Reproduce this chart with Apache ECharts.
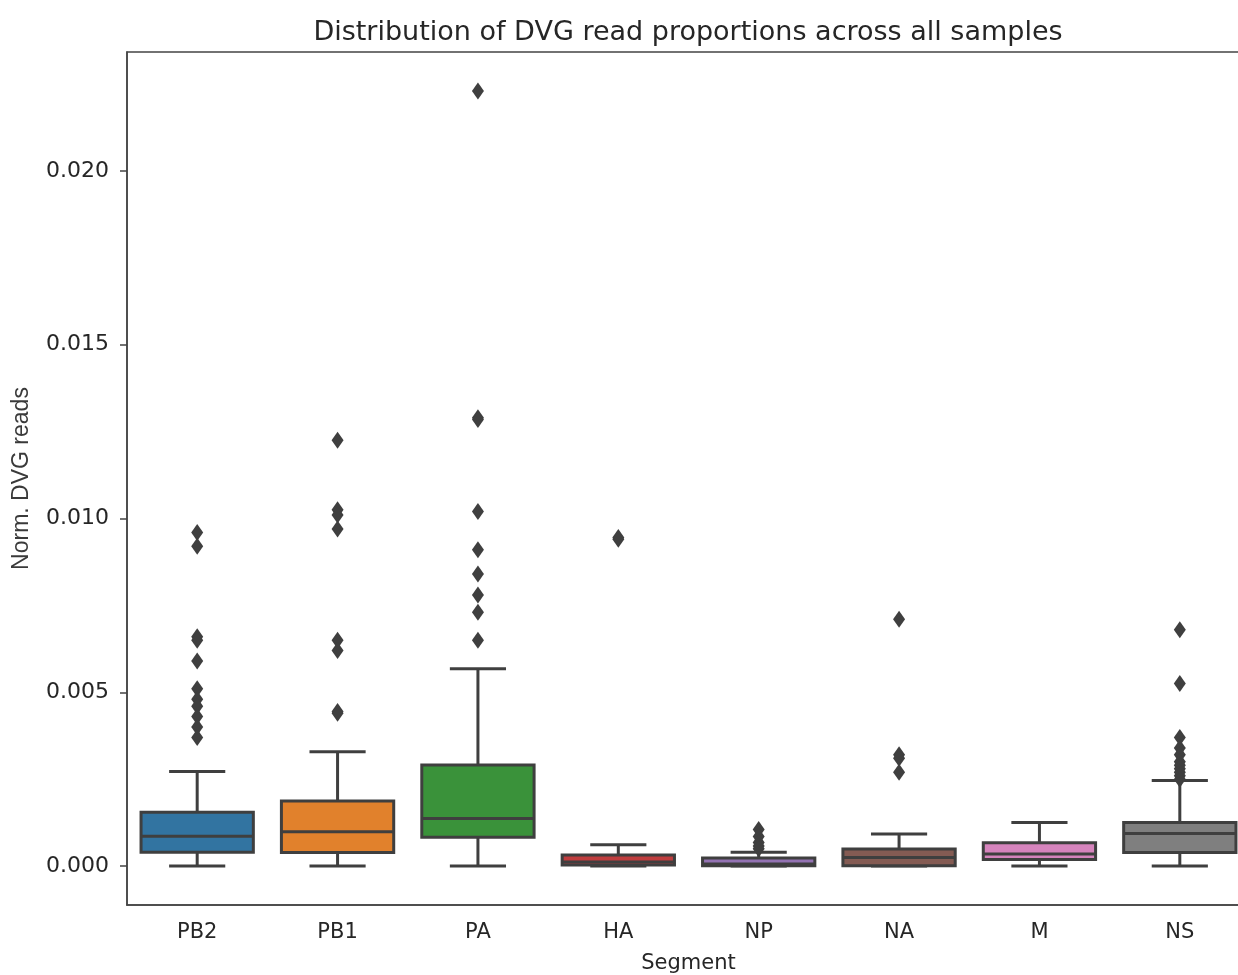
<!DOCTYPE html>
<html>
<head>
<meta charset="utf-8">
<script src="https://cdn.jsdelivr.net/npm/echarts@6/dist/echarts.min.js"></script>
<style>
html,body{margin:0;padding:0;background:#fff;}
#chart{width:1238px;height:975px;}
</style>
</head>
<body>
<div id="chart"></div>
<script>
// ---- data ----
const categories = ['PB2', 'PB1', 'PA', 'HA', 'NP', 'NA', 'M', 'NS'];
const boxMin    = [0.0000, 0.0000, 0.0000, 0.0000, 0.0000, 0.0000, 0.0000, 0.0000];
const boxQ1     = [0.00040, 0.00039, 0.00083, 0.00003, 0.00001, 0.00001, 0.00019, 0.00039];
const boxMedian = [0.00086, 0.00099, 0.00137, 0.00012, 0.00006, 0.00025, 0.00035, 0.00094];
const boxQ3     = [0.00155, 0.00187, 0.00291, 0.00032, 0.00023, 0.00049, 0.00067, 0.00125];
const boxMax    = [0.00272, 0.00329, 0.00568, 0.00061, 0.00040, 0.00092, 0.00125, 0.00246];
const outliersPB2 = [0.0096, 0.0092, 0.0066, 0.0065, 0.0059, 0.0051, 0.0048, 0.0046, 0.0043, 0.0040, 0.0037];
const outliersPB1 = [0.01225, 0.01025, 0.0101, 0.0097, 0.0065, 0.0062, 0.00445, 0.0044];
const outliersPA  = [0.0223, 0.0129, 0.01285, 0.0102, 0.0091, 0.0084, 0.0078, 0.0073, 0.0065];
const outliersHA  = [0.0094, 0.00945];
const outliersNP  = [0.00105, 0.00085, 0.00068, 0.00058, 0.0005];
const outliersNA  = [0.0071, 0.0032, 0.0031, 0.0027];
const outliersM   = [];
const outliersNS  = [0.0068, 0.00525, 0.0037, 0.0034, 0.0032, 0.0030, 0.0029, 0.0028, 0.0027, 0.0026, 0.0025];
const yTicks = [0, 0.005, 0.010, 0.015, 0.020];

// ---- styles ----
const palette = ['#3274a1', '#e1812c', '#3a923a', '#c03d3e', '#9372b2', '#845b53', '#d684bd', '#7f7f7f'];
const lineCol = '#3f3f3f';
const txtCol = '#262626';

const outlierGroups = [outliersPB2, outliersPB1, outliersPA, outliersHA, outliersNP, outliersNA, outliersM, outliersNS];
const boxData = categories.map((c, i) => [i, boxMin[i], boxQ1[i], boxMedian[i], boxQ3[i], boxMax[i]]);
const outlierData = [];
outlierGroups.forEach((g, i) => g.forEach(v => outlierData.push([i, v])));

const chart = echarts.init(document.getElementById('chart'), null, {renderer: 'canvas'});
chart.setOption({
  animation: false,
  backgroundColor: '#fff',
  title: {
    text: 'Distribution of DVG read proportions across all samples',
    left: 683, top: 14, textAlign: 'center',
    textStyle: {fontFamily: 'DejaVu Sans', fontSize: 27, fontWeight: 'normal', color: txtCol}
  },
  grid: {left: 127, width: 1123, top: 52, bottom: 70, outerBoundsMode: 'none', containLabel: false,
    show: true, borderColor: '#444', borderWidth: 1.5, backgroundColor: 'transparent'},
  xAxis: {
    type: 'category',
    data: categories,
    boundaryGap: true,
    name: 'Segment', nameLocation: 'middle', nameGap: 48,
    nameTextStyle: {fontFamily: 'DejaVu Sans', fontSize: 21, color: txtCol},
    axisLine: {onZero: false, lineStyle: {color: '#444', width: 1.5}},
    axisTick: {alignWithLabel: true, length: 7, lineStyle: {color: '#444', width: 1.5}},
    axisLabel: {fontFamily: 'DejaVu Sans', fontSize: 21, color: txtCol, margin: 17, interval: 0},
    splitLine: {show: false}
  },
  yAxis: {
    type: 'value',
    min: -0.00112, max: 0.02342,
    name: 'Norm. DVG reads', nameLocation: 'middle', nameGap: 94, nameRotate: 90,
    nameTextStyle: {fontFamily: 'Liberation Sans', fontSize: 23, color: '#3a3a3a'},
    axisLine: {show: true, onZero: false, lineStyle: {color: '#444', width: 1.5}},
    axisTick: {show: true, length: 7, customValues: yTicks, lineStyle: {color: '#444', width: 1.5}},
    axisLabel: {fontFamily: 'DejaVu Sans', fontSize: 22, color: txtCol, margin: 18, customValues: yTicks,
      formatter: v => v.toFixed(3)},
    splitLine: {show: false}
  },
  series: [
    {
      type: 'custom',
      data: boxData,
      encode: {x: 0, y: [1, 2, 3, 4, 5]},
      z: 2,
      renderItem: function (params, api) {
        const idx = api.value(0);
        const band = api.size([1, 0])[0];
        const boxW = band * 0.8, capW = boxW / 2;
        const pMin = api.coord([idx, api.value(1)]);
        const pQ1 = api.coord([idx, api.value(2)]);
        const pMed = api.coord([idx, api.value(3)]);
        const pQ3 = api.coord([idx, api.value(4)]);
        const pMax = api.coord([idx, api.value(5)]);
        const x = pMin[0];
        const ls = {stroke: lineCol, lineWidth: 3};
        return {
          type: 'group',
          children: [
            {type: 'line', shape: {x1: x, y1: pMin[1], x2: x, y2: pQ1[1]}, style: ls},
            {type: 'line', shape: {x1: x, y1: pQ3[1], x2: x, y2: pMax[1]}, style: ls},
            {type: 'line', shape: {x1: x - capW / 2, y1: pMin[1], x2: x + capW / 2, y2: pMin[1]}, style: ls},
            {type: 'line', shape: {x1: x - capW / 2, y1: pMax[1], x2: x + capW / 2, y2: pMax[1]}, style: ls},
            {type: 'rect', shape: {x: x - boxW / 2, y: pQ3[1], width: boxW, height: pQ1[1] - pQ3[1]},
              style: {fill: palette[idx], stroke: lineCol, lineWidth: 3}},
            {type: 'line', shape: {x1: x - boxW / 2, y1: pMed[1], x2: x + boxW / 2, y2: pMed[1]}, style: ls}
          ]
        };
      }
    },
    {
      type: 'scatter',
      data: outlierData,
      symbol: 'diamond',
      symbolSize: [12, 17],
      z: 3,
      itemStyle: {color: lineCol, opacity: 1}
    }
  ]
});
</script>
</body>
</html>
